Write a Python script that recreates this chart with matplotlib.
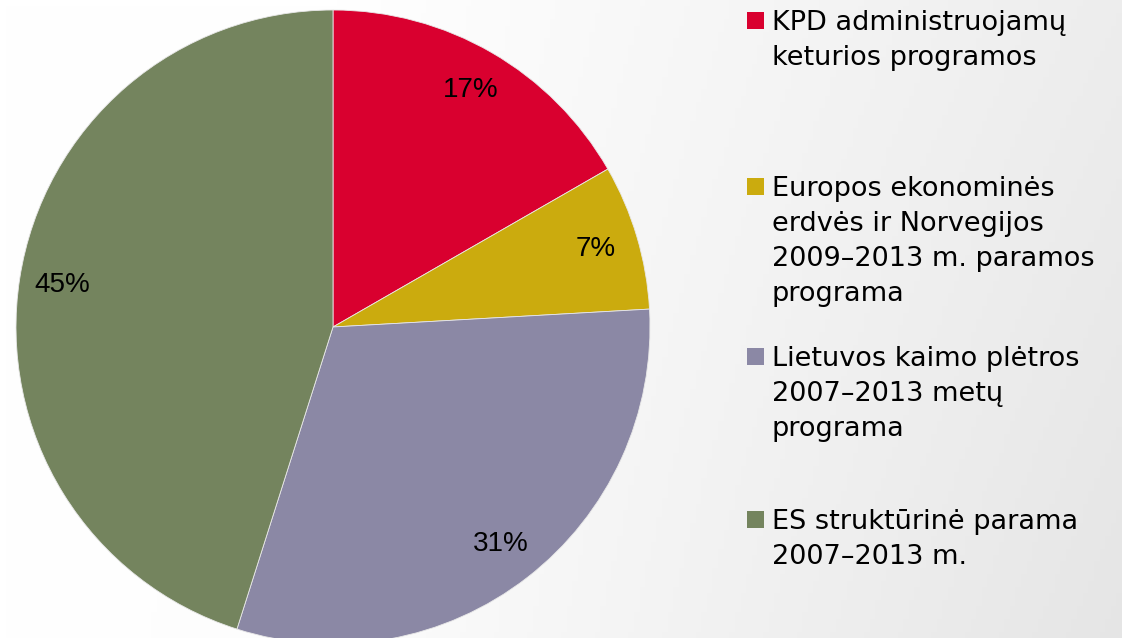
import numpy as np
import matplotlib.pyplot as plt
from matplotlib.patches import Rectangle

labels = ["KPD administruojamų\nketurios programos",
          "Europos ekonominės\nerdvės ir Norvegijos\n2009–2013 m. paramos\nprograma",
          "Lietuvos kaimo plėtros\n2007–2013 metų\nprograma",
          "ES struktūrinė parama\n2007–2013 m."]
shares = [16.7, 7.4, 30.8, 45.1]
colors = ["#d9002f", "#cbab0e", "#8b88a5", "#74845e"]

W, H = 1122, 638
fig = plt.figure(figsize=(W / 100, H / 100), dpi=100)

# background: white on the left fading to light grey on the right
bg = fig.add_axes([0, 0, 1, 1])
gx = np.linspace(0, 1, 200)
gy = np.linspace(0, 1, 100)
GX, GY = np.meshgrid(gx, gy)
val = 1.0 - 0.07 * np.clip((GX - 0.3) / 0.7, 0, 1) - 0.03 * GY * GX
bg.imshow(np.dstack([val, val, val]), extent=[0, 1, 0, 1], aspect="auto", origin="upper")
bg.axis("off")

# pie, centre (333, 327) px, radius 317 px
cx, cy, r = 333, 327, 317
ax = fig.add_axes([(cx - r) / W, (H - cy - r) / H, 2 * r / W, 2 * r / H])
wedges, texts, autotexts = ax.pie(
    shares, colors=colors, startangle=90, counterclock=False,
    autopct="%.0f%%", pctdistance=0.865,
    wedgeprops=dict(linewidth=0.6, edgecolor="#e8e8e8"),
    textprops=dict(fontsize=20, family="Liberation Sans", color="black"))
ax.set_xlim(-1, 1)
ax.set_ylim(-1, 1)
ax.set_aspect("equal")

# legend drawn by hand to keep the uneven spacing of the original
sq_top = [12, 178, 348, 511]
for lab, col, top in zip(labels, colors, sq_top):
    fig.add_artist(Rectangle((747 / W, 1 - (top + 17) / H), 17 / W, 17 / H,
                             transform=fig.transFigure, color=col, lw=0))
    fig.text(772 / W, 1 - (top - 2) / H, lab, ha="left", va="top",
             fontsize=19.5, family="DejaVu Sans", linespacing=1.45)

fig.savefig("out.png", dpi=100)
